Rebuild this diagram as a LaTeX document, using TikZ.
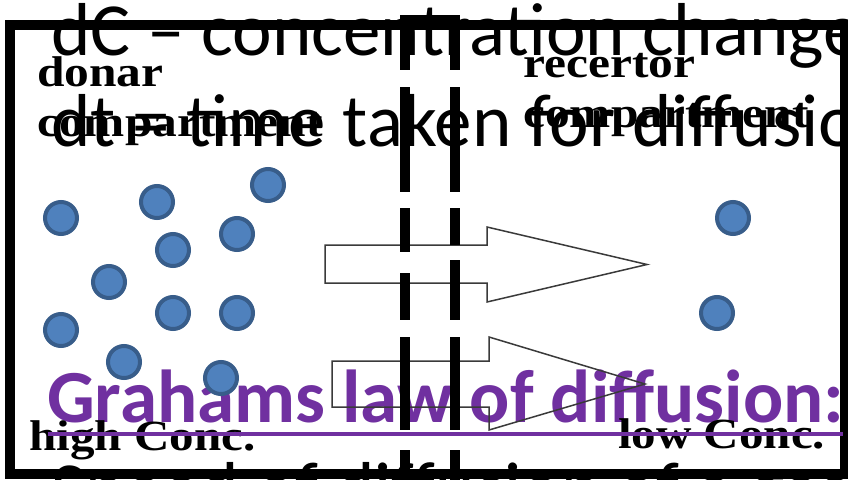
\documentclass[tikz,border=0pt]{standalone}
\usepackage{fontspec}
\usepackage{graphicx}
\newfontfamily\slidefont{Carlito}
\newfontfamily\labelfont{Liberation Serif}
\definecolor{slidepurple}{HTML}{7030A0}
\definecolor{ballfill}{HTML}{4F81BD}
\definecolor{balledge}{HTML}{385D8A}
\definecolor{arrowedge}{HTML}{3A3A3A}
\tikzset{
  slidetext/.style={anchor=base west, inner sep=0pt, font=\slidefont\fontsize{75}{90}\selectfont},
  heading/.style={anchor=base west, inner sep=0pt, font=\slidefont\bfseries\fontsize{75}{90}\selectfont, text=slidepurple},
  celllabel/.style={anchor=base west, inner sep=0pt, font=\labelfont\bfseries\fontsize{43}{50}\selectfont},
  molecule/.style={circle, fill=ballfill, draw=balledge, line width=4pt, minimum size=32pt, inner sep=0pt},
  flowarrow/.style={draw=arrowedge, line width=1.5pt, line join=miter},
  membrane/.style={line width=10pt},
  boxframe/.style={line width=10pt}
}
\begin{document}
\begin{tikzpicture}[x=1pt, y=-1pt]
\useasboundingbox (0,0) rectangle (848,479);
\clip (0,0) rectangle (848,479);
\fill[white] (0,0) rectangle (848,479);

% heading (drawn first, the sketch sits over it)
\node[heading] (law) at (47,422) {Grahams law of diffusion:};

% outer box
\draw[boxframe] (10,25) rectangle (845,474);

% flow arrows
\draw[flowarrow] (325,245) -- (487,245) -- (487,227) -- (647,264.5) -- (487,302) -- (487,283) -- (325,283) -- cycle;
\draw[flowarrow] (332,361) -- (489,361) -- (489,337) -- (645,384) -- (489,430) -- (489,407) -- (332,407) -- cycle;

% membrane: two dashed walls
\fill (400,15) rectangle (460,20);
\foreach \a/\b in {15/70, 87/192, 208/252, 273/320, 337/430, 450/485}
  \draw[membrane] (405,\a) -- (405,\b);
\foreach \a/\b in {15/70, 87/192, 208/245, 260/320, 337/430, 450/485}
  \draw[membrane] (455,\a) -- (455,\b);

% molecules, donor side
\node[molecule] (m1)  at (61,218) {};
\node[molecule] (m2)  at (157,202) {};
\node[molecule] (m3)  at (268,185) {};
\node[molecule] (m4)  at (237,234) {};
\node[molecule] (m5)  at (173,250) {};
\node[molecule] (m6)  at (109,282) {};
\node[molecule] (m7)  at (173,313) {};
\node[molecule] (m8)  at (237,313) {};
\node[molecule] (m9)  at (61,330) {};
\node[molecule] (m10) at (124,362) {};
\node[molecule] (m11) at (221,378) {};
% molecules, receptor side
\node[molecule] (m12) at (733,218) {};
\node[molecule] (m13) at (717,313) {};

% compartment labels
\node[celllabel] (donor1) at (37,86)  {\scalebox{1.15}[1]{donar}};
\node[celllabel] (donor2) at (37,136) {\scalebox{1.15}[1]{compartment}};
\node[celllabel] (recep1) at (523,77)  {\scalebox{1.15}[1]{recertor}};
\node[celllabel] (recep2) at (523,127) {\scalebox{1.15}[1]{compartment}};
\node[celllabel] (high) at (29,450)  {\scalebox{1.14}[1]{high Conc.}};
\node[celllabel] (low)  at (618,448) {\scalebox{1.14}[1]{low Conc.}};

% heading underline
\draw[slidepurple, line width=4pt] (48,434) -- (843,434);

% slide text
\node[slidetext] (dc) at (51,55)  {dC – concentration change};
\node[slidetext] (dt) at (51,146) {dt = time taken for diffusion};
\node[slidetext] (rate) at (51,514) {Speed of diffusion of a gas is inversely proportional};
\end{tikzpicture}
\end{document}
